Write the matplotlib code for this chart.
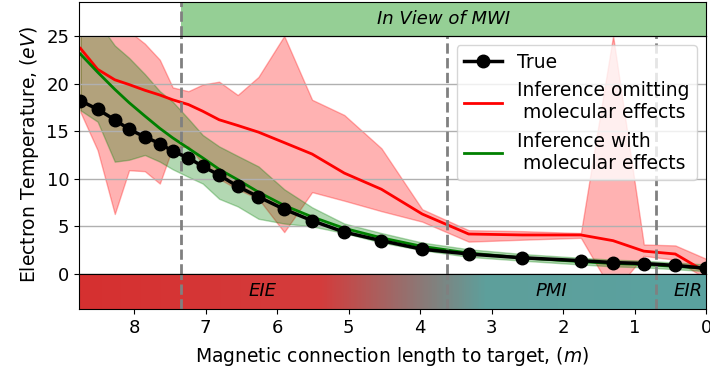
import numpy as np
import matplotlib
matplotlib.use("Agg")
import matplotlib.pyplot as plt
from matplotlib.colors import LinearSegmentedColormap

# distance to target (m) at each sample point
dist = [8.75, 8.51, 8.27, 8.07, 7.85, 7.64, 7.46, 7.24, 7.04, 6.81, 6.55, 6.26,
        5.90, 5.51, 5.06, 4.54, 3.97, 3.32, 2.57, 1.75, 1.30, 0.87, 0.43, 0.0]

te_true = [18.2, 17.3, 16.2, 15.2, 14.4, 13.7, 12.9, 12.2, 11.3, 10.4, 9.2, 8.1,
           6.8, 5.6, 4.4, 3.5, 2.6, 2.1, 1.7, 1.4, 1.2, 1.1, 0.9, 0.6]

# inference omitting molecular effects
te_nomol = [23.7, 21.5, 20.4, 19.9, 19.3, 18.8, 18.3, 17.8, 17.1, 16.2, 15.6, 14.9,
            13.8, 12.6, 10.6, 8.9, 6.3, 4.2, 4.1, 4.1, 3.5, 2.4, 2.1, 0.2]
nomol_hi = [27.0, 27.0, 26.0, 25.5, 24.2, 22.5, 19.6, 19.2, 19.9, 20.2, 18.8, 20.7,
            25.0, 18.3, 16.7, 13.2, 6.8, 4.6, 4.5, 4.3, 25.0, 3.1, 3.0, 1.6]
nomol_lo = [17.0, 13.0, 6.3, 10.9, 10.8, 9.5, 13.3, 13.4, 11.6, 10.0, 8.9, 7.9,
            4.4, 8.6, 7.7, 6.6, 5.5, 3.4, 3.6, 3.8, -2.0, 1.9, 1.5, -0.5]

# inference with molecular effects
te_mol = [23.1, 21.2, 19.4, 18.0, 16.6, 15.3, 14.3, 13.2, 12.2, 11.0, 9.9, 8.6,
          7.2, 6.0, 4.8, 3.8, 2.9, 2.2, 1.7, 1.3, 1.1, 1.0, 0.8, 0.6]
mol_hi = [27.0, 26.5, 24.0, 22.7, 21.0, 19.2, 18.1, 16.3, 14.6, 13.4, 12.4, 11.3,
          8.9, 7.0, 5.3, 4.3, 3.3, 2.6, 2.1, 1.7, 1.5, 1.4, 1.2, 1.0]
mol_lo = [17.2, 16.0, 11.8, 12.0, 12.5, 11.8, 11.0, 10.2, 9.5, 7.9, 7.1, 5.8,
          5.3, 5.0, 4.3, 3.3, 2.5, 1.8, 1.4, 1.0, 0.8, 0.7, 0.5, 0.3]

# region boundaries and labels
mwi_start = 7.35
boundaries = [7.35, 3.63, 0.7]
regime_names = ["EIE", "PMI", "EIR"]
regime_pos = [6.2, 2.17, 0.25]
x_max = 8.77

fig = plt.figure(figsize=(7.1, 3.76), dpi=100)
ax_top = fig.add_axes([0.1113, 0.9043, 0.8831, 0.0904])
ax = fig.add_axes([0.1113, 0.2713, 0.8831, 0.633])
ax_bot = fig.add_axes([0.1113, 0.1782, 0.8831, 0.0931])

# top band: in view of MWI
ax_top.axvspan(mwi_start, 0, color="tab:green", alpha=0.5, lw=0)
ax_top.axvline(mwi_start, color="gray", ls="--", lw=2)
ax_top.text(mwi_start / 2, 0.5, "In View of MWI", style="italic", fontsize=13,
            ha="center", va="center")
ax_top.set_xlim(x_max, 0)
ax_top.set_ylim(0, 1)
ax_top.set_xticks([])
ax_top.set_yticks([])

# main panel
ax.fill_between(dist, nomol_lo, nomol_hi, color="red", alpha=0.3)
ax.fill_between(dist, mol_lo, mol_hi, color="green", alpha=0.3)
ax.plot(dist, te_true, "o-", color="black", lw=2.5, ms=9, label="True", zorder=4)
ax.plot(dist, te_nomol, color="red", lw=2,
        label="Inference omitting\n molecular effects")
ax.plot(dist, te_mol, color="green", lw=2,
        label="Inference with\n molecular effects")
for b in boundaries:
    ax.axvline(b, color="gray", ls="--", lw=2)
ax.set_xlim(x_max, 0)
ax.set_ylim(0, 25)
ax.set_yticks([0, 5, 10, 15, 20, 25])
ax.set_xticks([])
ax.grid(axis="y", color="#b0b0b0", lw=1)
ax.tick_params(labelsize=13)
ax.set_ylabel("Electron Temperature, ($eV$)", fontsize=13.5)
ax.legend(loc="upper right", fontsize=13.5, handlelength=2)

# bottom band: regimes, red -> teal
cmap = LinearSegmentedColormap.from_list(
    "regime", [(0, "#5aa2a0"), (3.1 / x_max, "#5e9f9b"),
               (5.4 / x_max, "#d43c3c"), (1, "#d63030")])
xs = np.linspace(0, x_max, 600)
ax_bot.imshow(xs[np.newaxis, :], extent=[0, x_max, 0, 1], aspect="auto",
              cmap=cmap, vmin=0, vmax=x_max)
for b in boundaries:
    ax_bot.axvline(b, color="gray", ls="--", lw=2)
for name, pos in zip(regime_names, regime_pos):
    ax_bot.text(pos, 0.5, name, style="italic", fontsize=13, ha="center", va="center")
ax_bot.set_xlim(x_max, 0)
ax_bot.set_ylim(0, 1)
ax_bot.set_yticks([])
ax_bot.set_xticks(range(0, 9))
ax_bot.tick_params(labelsize=13)
ax_bot.set_xlabel("Magnetic connection length to target, ($m$)", fontsize=13.5,
                  labelpad=6)

fig.savefig("out.png", dpi=100)
